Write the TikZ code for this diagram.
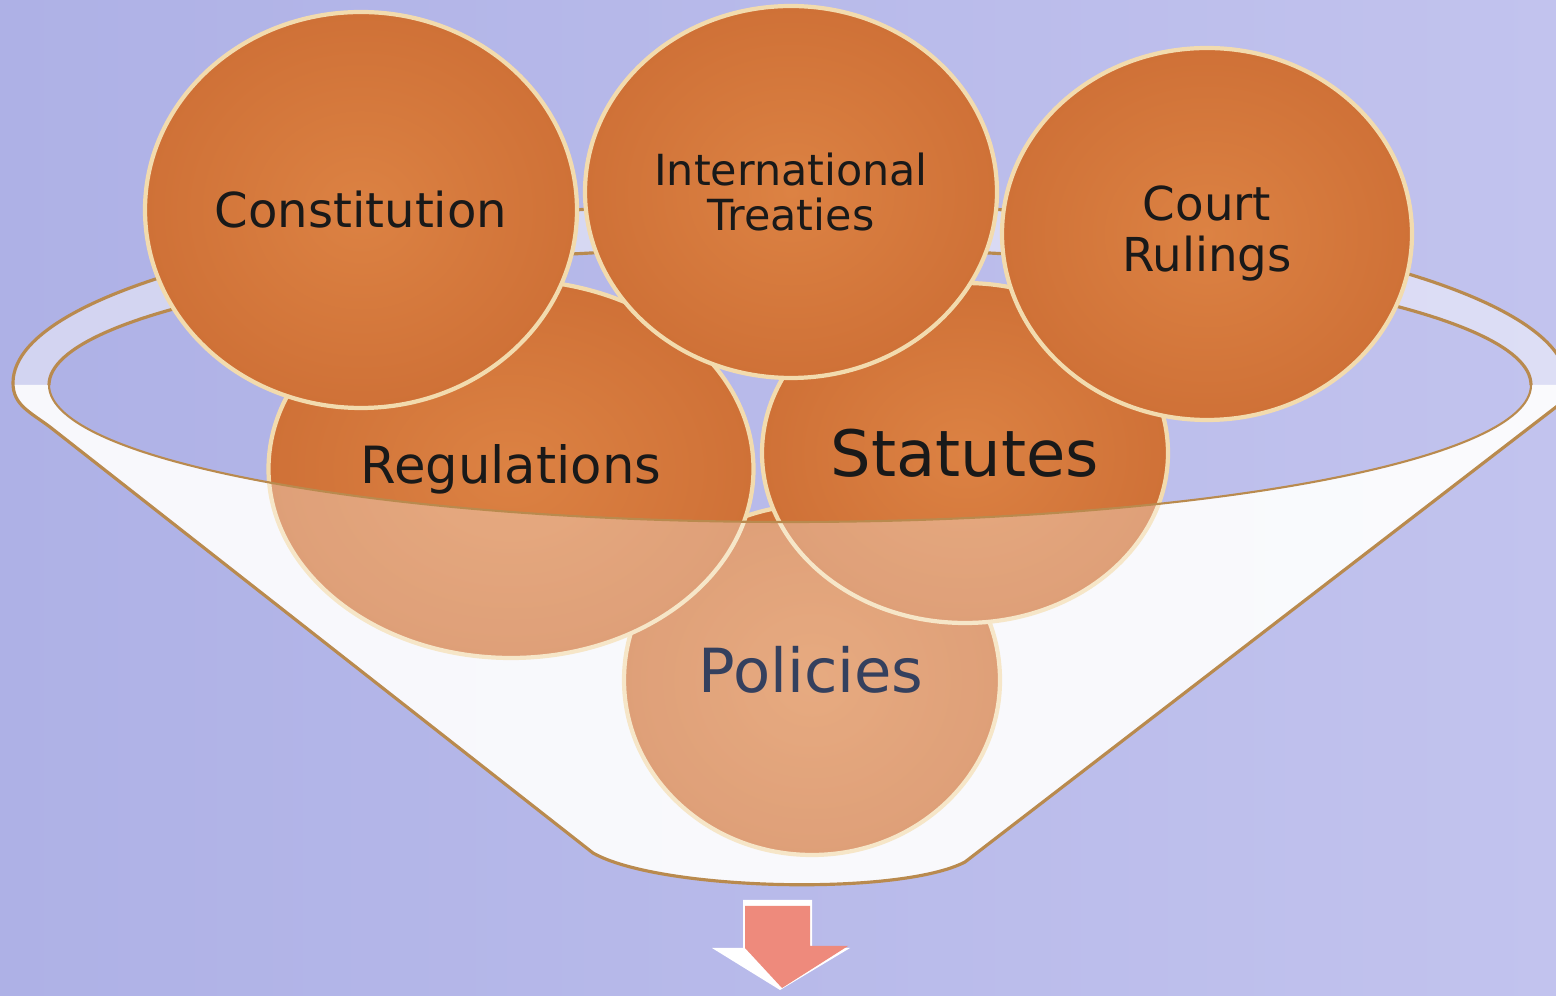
\documentclass[tikz,border=0pt]{standalone}
\usepackage{fontspec}
\setmainfont{DejaVu Sans}
\usetikzlibrary{shapes.geometric}

\definecolor{bgleft}{HTML}{AEB1E6}
\definecolor{bgright}{HTML}{C2C3EE}
\definecolor{discin}{HTML}{DC8243}
\definecolor{discout}{HTML}{CF7137}
\definecolor{discedge}{HTML}{F2DBAE}
\definecolor{rimline}{HTML}{B98A4E}
\definecolor{arrowpink}{HTML}{EE8A7C}
\definecolor{policytext}{HTML}{34405E}

\tikzset{
  disc/.style={ellipse, draw=discedge, line width=1.2pt, inner color=discin,
    outer color=discout, inner sep=0pt, text=black!90, align=center},
  funnelline/.style={draw=rimline, line width=0.9pt},
}

% funnel silhouette: outer rim, sides and neck
\newcommand{\funnelsil}{(0.13,6.13) .. controls (0.13,5.91) and (0.30,5.84) .. (0.50,5.69)
  -- (5.93,1.43) .. controls (6.60,1.05) and (9.00,1.00) .. (9.65,1.34)
  -- (15.60,5.92) .. controls (15.65,5.97) and (15.67,6.05) .. (15.67,6.13)
  arc[start angle=0, end angle=180, x radius=7.77, y radius=1.80] -- cycle}

\begin{document}
\begin{tikzpicture}
    \useasboundingbox (0,0) rectangle (15.56,9.96);
    \clip (0,0) rectangle (15.56,9.96);
    \shade[left color=bgleft, right color=bgright] (0,0) rectangle (15.56,9.96);

    % Funnel body behind the discs
    \fill[white, fill opacity=0.45, even odd rule] \funnelsil (7.90,6.11) ellipse (7.41 and 1.37);
    \begin{scope}
        \clip \funnelsil;
        \fill[white, fill opacity=0.8] (0.49,6.11) arc[start angle=180, end angle=360, x radius=7.41, y radius=1.37]
            -- (15.7,6.11) -- (15.7,0) -- (0,0) -- (0,6.11) -- cycle;
    \end{scope}
    \draw[funnelline] (15.67,6.13) arc[start angle=0, end angle=180, x radius=7.77, y radius=1.80];
    \draw[funnelline] (15.31,6.11) arc[start angle=0, end angle=180, x radius=7.41, y radius=1.37];

    % Discs inside the funnel
    \node[disc, minimum width=3.76cm, minimum height=3.50cm] (policies) at (8.12,3.16) {};
    \node[disc, minimum width=4.85cm, minimum height=3.78cm, font={\fontsize{14.6}{16}\selectfont}]
        (regulations) at (5.11,5.27) {Regulations};
    \node[disc, minimum width=4.06cm, minimum height=3.40cm, font={\fontsize{18.2}{20}\selectfont}]
        (statutes) at (9.65,5.43) {Statutes};

    % Front wall of the funnel
    \begin{scope}
        \clip \funnelsil;
        \fill[white, fill opacity=0.33] (0.49,6.11) arc[start angle=180, end angle=360, x radius=7.41, y radius=1.37]
            -- (15.7,6.11) -- (15.7,0) -- (0,0) -- (0,6.11) -- cycle;
    \end{scope}
    \node[text=policytext, font={\fontsize{17.3}{19}\selectfont}] (policylabel) at (8.11,3.26) {Policies};
    \draw[funnelline, line width=0.6pt] (0.49,6.11) arc[start angle=180, end angle=360, x radius=7.41, y radius=1.37];
    \draw[funnelline] (0.13,6.13) .. controls (0.13,5.91) and (0.30,5.84) .. (0.50,5.69)
        -- (5.93,1.43) .. controls (6.60,1.05) and (9.00,1.00) .. (9.65,1.34)
        -- (15.60,5.92) .. controls (15.65,5.97) and (15.67,6.05) .. (15.67,6.13);

    % Discs on the rim
    \node[disc, minimum width=4.32cm, minimum height=3.96cm, font={\fontsize{13.7}{15}\selectfont}]
        (constitution) at (3.61,7.86) {Constitution};
    \node[disc, minimum width=4.12cm, minimum height=3.72cm, font={\fontsize{12.2}{13}\selectfont}]
        (treaties) at (7.91,8.04) {International\\Treaties};
    \node[disc, minimum width=4.10cm, minimum height=3.72cm, font={\fontsize{13.3}{14.5}\selectfont}]
        (rulings) at (12.07,7.62) {Court\\Rulings};

    % Output arrow
    \fill[white] (7.43,0.96) -- (8.12,0.96) -- (8.12,0.48) -- (8.50,0.48) -- (7.80,0.06)
        -- (7.12,0.48) -- (7.43,0.48) -- cycle;
    \fill[arrowpink] (7.45,0.90) -- (8.10,0.90) -- (8.10,0.50) -- (8.48,0.50) -- (7.82,0.08)
        -- (7.45,0.48) -- cycle;
\end{tikzpicture}
\end{document}
